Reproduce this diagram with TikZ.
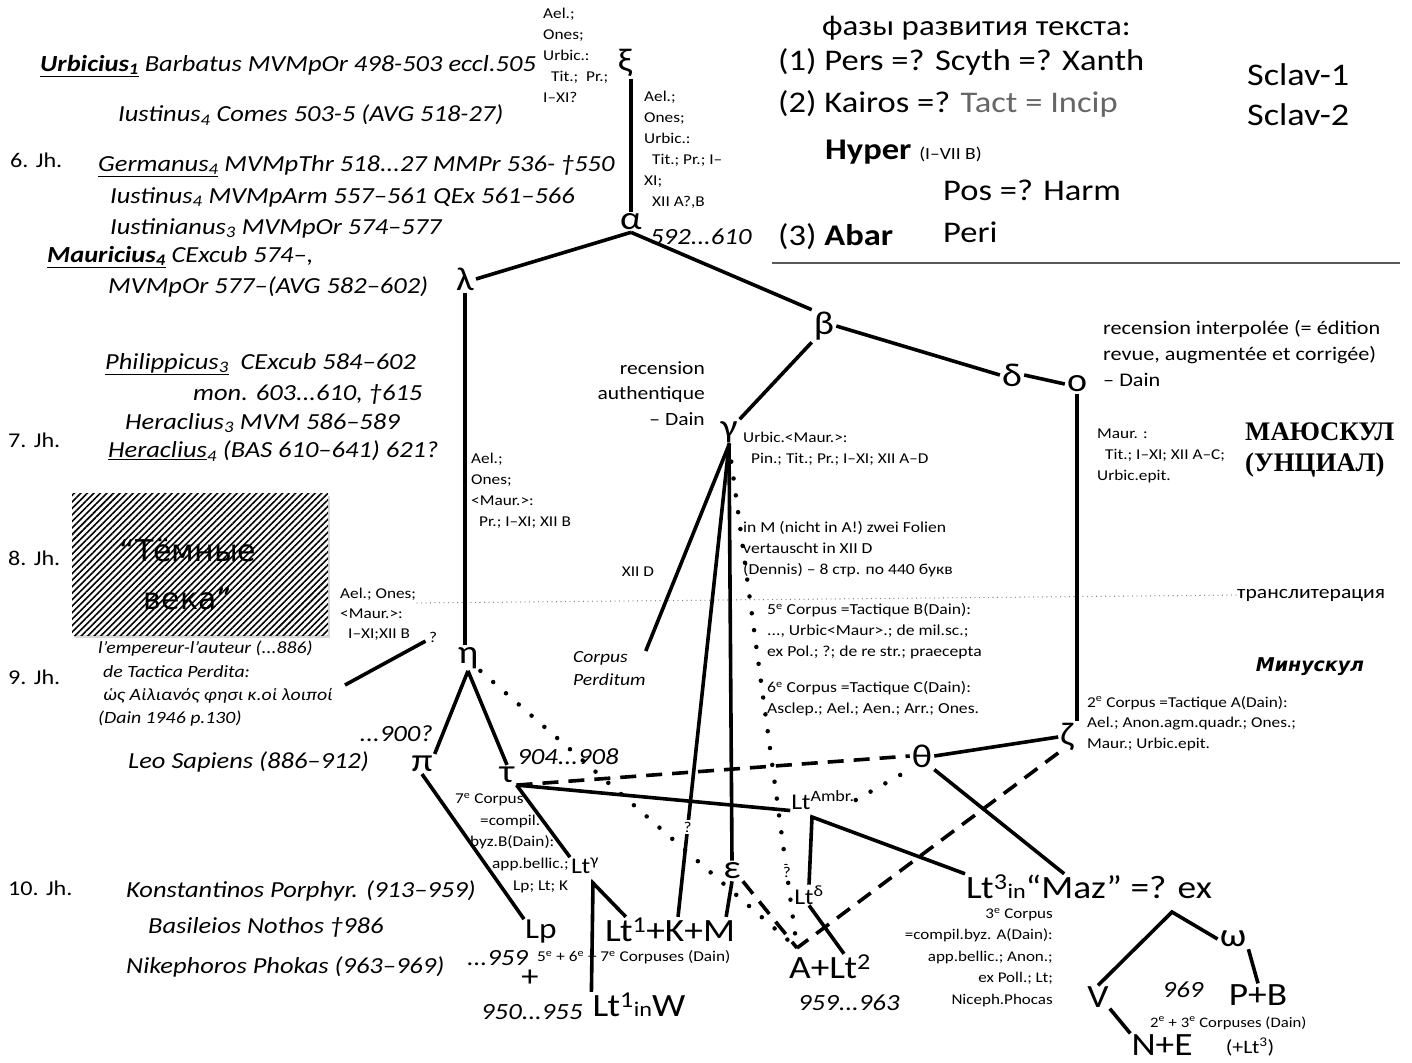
\documentclass[tikz,border=0pt]{standalone}
\usepackage{fontspec}
\setmainfont{Carlito}[FakeStretch=1.15]
\newfontfamily\wideface{DejaVu Sans}
\newfontfamily\serifbold{Liberation Serif}
\usetikzlibrary{patterns.meta, positioning, shadows}

\newcommand{\fsz}[2]{\fontsize{#1}{#2}\selectfont}

\begin{document}
\begin{tikzpicture}[
  x=1pt, y=-1pt,
  ruler/.style={anchor=west, inner sep=0pt, font=\fsz{23}{27}\itshape},
  century/.style={anchor=west, inner sep=0pt, font=\fsz{21}{24}},
  greek/.style={font=\fsz{33}{33}, inner sep=2pt},
  ms/.style={font=\fsz{32.5}{33}, inner sep=1pt},
  lt/.style={font=\fsz{22.5}{25}, inner sep=1pt},
  note/.style={anchor=north west, align=left, inner sep=0pt, font=\fsz{15}{21}},
  datum/.style={inner sep=0pt, font=\fsz{23.2}{26}\itshape},
  phase/.style={anchor=west, inner sep=0pt, font=\fsz{30}{34}},
  qmark/.style={font=\fsz{15}{15}, fill=white, inner sep=2pt},
  darkbox/.style={minimum width=256pt, minimum height=142pt, inner sep=0pt,
                  fill=white, drop shadow={opacity=0.3, shadow xshift=2pt, shadow yshift=-3pt},
                  postaction={pattern={Lines[angle=45, distance=4.6pt, line width=1.6pt]}}},
  link/.style={line width=3.6pt},
  dashlink/.style={line width=3.6pt, dash pattern=on 16pt off 10pt},
  dotlink/.style={line width=4.5pt, line cap=round, dash pattern=on 0pt off 17pt},
  translit/.style={gray, line width=1.3pt, line cap=round, dash pattern=on 0pt off 4.5pt}
]
\fill[white] (0,0) rectangle (1412,1062);
\useasboundingbox (0,0) rectangle (1412,1062);

% Emperors, generals and centuries
\node[ruler] (urbicius) at (40,66) {\underline{\textbf{Urbicius\textsubscript{1}}} Barbatus MVMpOr 498-503 eccl.505};
\node[ruler] (iustinA) at (118,115) {Iustinus\textsubscript{4} Comes 503-5 (AVG 518-27)};
\node[century] (jh6) at (10,160) {6. Jh.};
\node[ruler] (germanus) at (98,166) {\underline{Germanus\textsubscript{4}} MVMpThr 518...27 MMPr 536- †550};
\node[ruler] (iustinB) at (110,197) {Iustinus\textsubscript{4} MVMpArm 557–561 QEx 561–566};
\node[ruler] (iustinian) at (110,228) {Iustinianus\textsubscript{3} MVMpOr 574–577};
\node[ruler] (mauricA) at (47,257) {\underline{\textbf{Mauricius\textsubscript{4}}} CExcub 574–,};
\node[ruler] (mauricB) at (108,287) {MVMpOr 577–(AVG 582–602)};
\node[ruler] (philippA) at (105,364) {\underline{Philippicus\textsubscript{3}}\ \ CExcub 584–602};
\node[ruler] (philippB) at (193,394) {mon. 603...610, †615};
\node[century] (jh7) at (8,440) {7. Jh.};
\node[ruler] (heraclA) at (125,423) {Heraclius\textsubscript{3} MVM 586–589};
\node[ruler] (heraclB) at (108,451) {\underline{Heraclius}\textsubscript{4} (BAS 610–641) 621?};
\node[century] (jh8) at (8,558) {8. Jh.};
\node[century] (jh9) at (8,677) {9. Jh.};
\node[ruler] (leo) at (128,762) {Leo Sapiens (886–912)};
\node[century] (jh10) at (8,888) {10. Jh.};
\node[ruler] (konst) at (126,891) {Konstantinos Porphyr. (913–959)};
\node[ruler] (basil) at (148,927) {Basileios Nothos †986};
\node[ruler] (nikeph) at (126,967) {Nikephoros Phokas (963–969)};

% Dark ages
\node[darkbox] (darkages) at (200,564) {};
\node[font=\wideface\fsz{30}{48}, align=center] (darktext) at (188,574) {“Тёмные\\века”};
\node[anchor=north west, align=left, inner sep=0pt, font=\fsz{17.2}{23.3}\itshape] (quote) at (98,641)
  {l’empereur-l’auteur (...886)\\\hspace*{5pt}de Tactica Perdita:\\\hspace*{5pt}ὡς Αἰλιανός φησι κ.οἱ λοιποί\\(Dain 1946 p.130)};

% Phases of the text
\node[anchor=west, inner sep=0pt, font=\fsz{28.6}{32}] (phases) at (822,28) {фазы развития текста:};
\node[phase] (phase1) at (778,62) {(1) Pers =? Scyth =? Xanth};
\node[phase] (phase2) at (778,104) {(2) Kairos =? {\color{black!60}Tact = Incip}};
\node[phase] (hyper) at (825,152) {\textbf{Hyper} {\fsz{17}{17}(I–VII B)}};
\node[phase] (posharm) at (943,190) {Pos =? Harm};
\node[phase] (abar) at (778,237) {(3) \textbf{Abar}};
\node[phase] (peri) at (943,232) {Peri};
\node[phase, font=\fsz{31.5}{34}] (sclav1) at (1247,75) {Sclav-1};
\node[phase, font=\fsz{31.5}{34}] (sclav2) at (1247,115) {Sclav-2};
\draw[black!65, line width=2pt] (772,263) -- (1400,263);

% Hyparchetypes
\node[greek] (xi) at (625,63) {ξ};
\node[greek] (alpha) at (631,222) {α};
\node[greek] (lambda) at (465,279) {λ};
\node[greek] (beta) at (824,326) {β};
\node[greek] (gamma) at (729,432) {γ};
\node[greek] (delta) at (1012,375) {δ};
\node[greek] (omicron) at (1077,384) {ο};
\node[greek] (eta) at (468,658) {η};
\node[greek] (pi) at (422,764) {π};
\node[greek] (tau) at (507,775) {τ};
\node[greek] (theta) at (922,756) {θ};
\node[greek] (zeta) at (1067,737) {ζ};
\node[greek] (epsilon) at (732,871) {ε};
\node[greek] (omega) at (1233,939) {ω};

% Manuscripts
\node[lt] (ltg) at (585,866) {Lt\textsuperscript{γ}};
\node[lt] (ltambr) at (823,800) {Lt\textsuperscript{Ambr.}};
\node[lt] (ltd) at (809,895) {Lt\textsuperscript{δ}};
\node[ms, font=\fsz{29}{30}] (lp) at (541,932) {Lp};
\node[ms] (ltkm) at (670,930) {Lt\textsuperscript{1}+K+M};
\node[ms] (ltw) at (639,1005) {Lt\textsuperscript{1}{\fsz{21}{21}in}W};
\node[ms] (alt) at (830,967) {A+Lt\textsuperscript{2}};
\node[ms, anchor=west] (lt3) at (965,887) {Lt\textsuperscript{3}{\fsz{21}{21}in}“Maz”};
\node[ms, right=6pt of lt3] (lt3ex) {=? ex};
\node[ms] (v) at (1098,997) {V};
\node[ms] (ne) at (1162,1045) {N+E};
\node[ms] (pb) at (1258,995) {P+B};

% Dates
\node[datum, anchor=west] (d592) at (650,237) {592...610};
\node[datum, anchor=east] (d900) at (433,734) {...900?};
\node[datum] (d904) at (568,757) {904...908};
\node[datum, anchor=west] (d959a) at (467,958) {...959};
\node[font=\fsz{30}{30}] (plus) at (530,978) {+};
\node[datum, anchor=west] (d950) at (481,1012) {950...955};
\node[datum, anchor=west] (d959b) at (798,1003) {959...963};
\node[datum] (d969) at (1183,990) {969};

% Notes on contents
\node[note] (notexi) at (543,8) {Ael.;\\Ones;\\Urbic.:\\\hspace*{8pt}Tit.;\ \ Pr.;\\I–XI?};
\node[note] (notealpha) at (644,91) {Ael.;\\Ones;\\Urbic.:\\\hspace*{8pt}Tit.; Pr.; I–\\XI;\\\hspace*{8pt}XII A?,B};
\node[note] (noteeta) at (471,453) {Ael.;\\Ones;\\<Maur.>:\\\hspace*{8pt}Pr.; I–XI; XII B};
\node[note, font=\fsz{15}{20}] (noteq) at (340,588) {Ael.; Ones;\\<Maur.>:\\\hspace*{8pt}I–XI;XII B};
\node[font=\fsz{15}{15}] (q9) at (433,637) {?};
\node[note] (notegamma) at (743,432) {Urbic.<Maur.>:\\\hspace*{8pt}Pin.; Tit.; Pr.; I–XI; XII A–D};
\node[note, font=\fsz{15.3}{21}] (notefolien) at (743,521) {in M (nicht in A!) zwei Folien\\vertauscht in XII D\\(Dennis) – 8 стр. по 440 букв};
\node[font=\fsz{15}{15}] (xiid) at (638,572) {XII D};
\node[note, font=\fsz{15.3}{21}] (notefive) at (767,603) {5\textsuperscript{e} Corpus =Tactique B(Dain):\\..., Urbic<Maur>.; de mil.sc.;\\ex Pol.; ?; de re str.; praecepta};
\node[note, font=\fsz{15.3}{21}] (notesix) at (767,681) {6\textsuperscript{e} Corpus =Tactique C(Dain):\\Asclep.; Ael.; Aen.; Arr.; Ones.};
\node[note, font=\fsz{17}{23}\itshape] (perditum) at (573,651) {Corpus\\Perditum};
\node[anchor=north east, align=right, inner sep=0pt, font=\fsz{18.7}{25.5}] (authentique) at (705,361) {recension\\authentique\\– Dain};
\node[anchor=north west, align=left, inner sep=0pt, font=\fsz{19.3}{26}] (interpolee) at (1103,320) {recension interpolée (= édition\\revue, augmentée et corrigée)\\– Dain};
\node[note] (noteomicron) at (1097,429) {Maur. :\\\hspace*{8pt}Tit.; I–XI; XII A–C;\\Urbic.epit.};
\node[anchor=north west, align=left, inner sep=0pt, font=\serifbold\bfseries\fsz{26.8}{31}] (majuscule) at (1245,423) {МАЮСКУЛ\\(УНЦИАЛ)};
\node[anchor=west, inner sep=0pt, font=\fsz{18.8}{22}] (translit) at (1237,595) {транслитерация};
\node[font=\wideface\bfseries\itshape\fsz{19}{22}] (minuscule) at (1310,667) {Минускул};
\node[note, font=\fsz{15}{20.5}] (notezeta) at (1087,696) {2\textsuperscript{e} Corpus =Tactique A(Dain):\\Ael.; Anon.agm.quadr.; Ones.;\\Maur.; Urbic.epit.};
\node[note, font=\fsz{15}{21.7}] (noteseven) at (455,793) {7\textsuperscript{e} Corpus\\\hspace*{25pt}=compil.\\\hspace*{15pt}byz.B(Dain):\\\hspace*{37pt}app.bellic.;\\\hspace*{58pt}Lp; Lt; K};
\node[anchor=north east, align=right, inner sep=0pt, font=\fsz{14.8}{21.5}] (notethree) at (1053,908) {3\textsuperscript{e} Corpus\\=compil.byz. A(Dain):\\app.bellic.; Anon.;\\ex Poll.; Lt;\\Niceph.Phocas};
\node[anchor=west, inner sep=0pt, font=\fsz{15}{15}] (corp567) at (537,957) {5\textsuperscript{e} + 6\textsuperscript{e} + 7\textsuperscript{e} Corpuses (Dain)};
\node[anchor=west, inner sep=0pt, font=\fsz{14.5}{15}] (corp23) at (1150,1023) {2\textsuperscript{e} + 3\textsuperscript{e} Corpuses (Dain)};
\node[font=\fsz{19}{19}] (corp23b) at (1250,1047) {(+Lt\textsuperscript{3})};

% Helper coordinates
\coordinate (alttop) at (797,948);
\coordinate (ltgfoot) at (593,883);
\coordinate (ambrfoot) at (812,817);
\coordinate (exfoot) at (1172,912);
\coordinate (quoteend) at (345,685);
\coordinate (translitstart) at (417,603);

% Transliteration border
\draw[translit] (translitstart) -- (translit.west);

% Upper stemma
\draw[link] (alpha.north |- xi.south) -- (alpha.north);
\draw[link] (alpha.south) -- (lambda.east);
\draw[link] (alpha.south) -- (beta.north west);
\draw[link] (lambda.south) -- (lambda.south |- eta.north);
\draw[link] (beta.south west) -- (gamma.north east);
\draw[link] (beta.east) -- (delta.west);
\draw[link] (delta.east) -- (omicron.west);
\draw[link] (omicron.south) -- (omicron.south |- zeta.north);

% From gamma
\draw[link] (gamma.south) -- (perditum.north east);
\draw[link] (gamma.south) -- node[qmark, pos=.81] (qgk) {?} ([xshift=8pt]ltkm.north);
\draw[link] (gamma.south) -- (epsilon.north);
\draw[dotlink] (gamma.south) -- node[qmark, pos=.85] (qga) {?} (alttop);

% From eta
\draw[link] (quoteend) -- (q9);
\draw[link] (eta.south) -- (pi.north east);
\draw[link] (eta.south) -- (tau.north);
\draw[dotlink] (eta.south east) -- (alttop);
\draw[link] (pi.south) -- (lp.north west);
\draw[link] (tau.south east) -- (ltg.north west);
\draw[link] (tau.south east) -- (ltambr.south west);
\draw[dashlink] (tau.south east) -- (theta.west);
\draw[link] (ltw.north west) -- (ltgfoot) -- ([xshift=22pt]ltkm.north west);

% Lower stemma
\draw[link] (epsilon.south) -- ([xshift=-10pt]ltkm.north east);
\draw[dashlink] (epsilon.south east) -- (alttop);
\draw[dotlink] (ltambr.east) -- (theta.south west);
\draw[link] (ltd.north) -- (ambrfoot) -- (lt3.north west);
\draw[link] (ltd.south) -- ([xshift=14pt]alt.north);
\draw[link] (theta.east) -- (zeta.west);
\draw[link] (theta.south east) -- ([xshift=20pt]lt3.north);
\draw[dashlink] (zeta.south west) -- (alttop);
\draw[link] (v.north) -- (exfoot) -- (omega.west);
\draw[link] (omega.south east) -- (pb.north);
\draw[link] (v.south east) -- (ne.north west);

\end{tikzpicture}
\end{document}
